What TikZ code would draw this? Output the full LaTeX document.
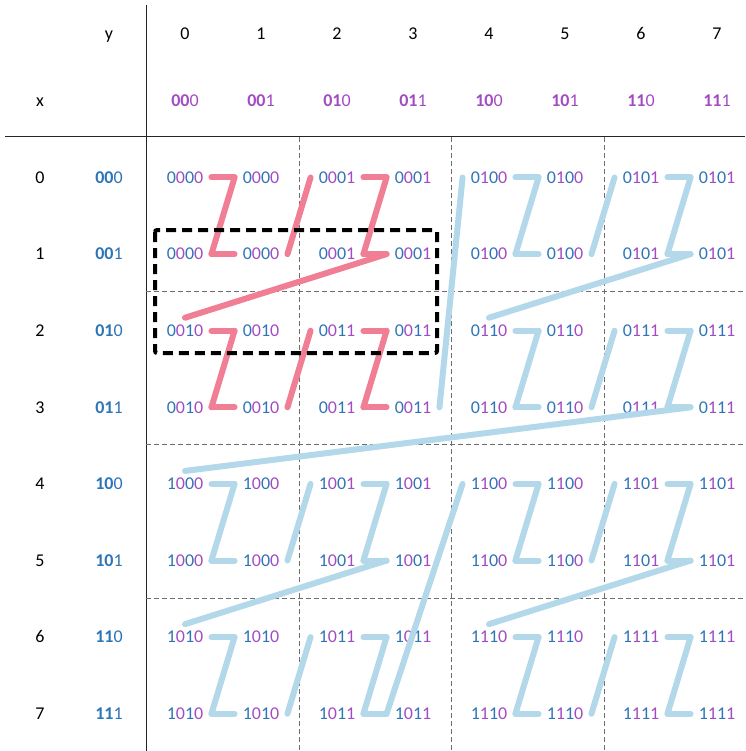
\documentclass[tikz,border=0pt]{standalone}
\usepackage{fontspec}
\setmainfont{Carlito}
\usetikzlibrary{calc}
\definecolor{xblue}{HTML}{2E75B6}
\definecolor{ypurple}{HTML}{A24CC2}
\definecolor{zred}{HTML}{F07F96}
\definecolor{zblue}{HTML}{B3D8EA}
\definecolor{gridgray}{HTML}{6E6E6E}

\newcommand{\headbits}[3]{\textbf{#1#2}#3}
\newcommand{\cellbits}[4]{\textcolor{xblue}{#1}\textcolor{ypurple}{#2}\textcolor{xblue}{#3}\textcolor{ypurple}{#4}}

\begin{document}
\begin{tikzpicture}[
    x=1pt, y=-1pt,
    font=\fontsize{18}{20}\selectfont,
    plain/.style={inner sep=0pt, text height=11.5pt, text depth=0pt},
    cell/.style={inner xsep=8pt, inner ysep=7pt, text height=11.5pt, text depth=0pt},
    axis/.style={draw=black!85, line width=1pt},
    split/.style={draw=gridgray, line width=1pt, dash pattern=on 5pt off 3pt},
    zpath/.style={draw=#1, line width=6pt, line cap=round, line join=round},
    window/.style={draw=black, line width=4pt, dash pattern=on 10pt off 6pt, rounded corners=2pt},
]
\useasboundingbox (0,0) rectangle (745,751);

% table lines
\draw[axis] (146,5) -- (146,751);
\draw[axis] (5,137) -- (745,137);
\foreach \p in {299,451,604} \draw[split] (\p,137) -- (\p,751);
\foreach \p in {291,444,598} \draw[split] (146,\p) -- (745,\p);

% headers
\node[plain] (ytitle) at (109,34) {y};
\node[plain] (xtitle) at (40,101) {x};
\foreach \c in {0,...,7} {
    \pgfmathtruncatemacro\bita{floor(\c/4)}
    \pgfmathtruncatemacro\bitb{mod(floor(\c/2),2)}
    \pgfmathtruncatemacro\bitc{mod(\c,2)}
    \node[plain] (ynum-\c) at (185+76*\c,34) {\c};
    \node[plain, text=ypurple] (ybin-\c) at (185+76*\c,101) {\headbits{\bita}{\bitb}{\bitc}};
    \node[plain] (xnum-\c) at (40,177.5+76.6*\c) {\c};
    \node[plain, text=xblue] (xbin-\c) at (109,177.5+76.6*\c) {\headbits{\bita}{\bitb}{\bitc}};
}

% cells
\foreach \r in {0,...,7} {
    \foreach \c in {0,...,7} {
        \pgfmathtruncatemacro\xa{floor(\r/4)}
        \pgfmathtruncatemacro\xb{mod(floor(\r/2),2)}
        \pgfmathtruncatemacro\ya{floor(\c/4)}
        \pgfmathtruncatemacro\yb{mod(floor(\c/2),2)}
        \node[cell] (cell-\r-\c) at (185+76*\c,177.5+76.6*\r) {\cellbits{\xa}{\ya}{\xb}{\yb}};
    }
}

% z-order curve
\foreach \k in {0,...,62} {
    \pgfmathtruncatemacro\knext{\k+1}
    \pgfmathtruncatemacro\rowa{4*mod(floor(\k/32),2)+2*mod(floor(\k/8),2)+mod(floor(\k/2),2)}
    \pgfmathtruncatemacro\cola{4*mod(floor(\k/16),2)+2*mod(floor(\k/4),2)+mod(\k,2)}
    \pgfmathtruncatemacro\rowb{4*mod(floor(\knext/32),2)+2*mod(floor(\knext/8),2)+mod(floor(\knext/2),2)}
    \pgfmathtruncatemacro\colb{4*mod(floor(\knext/16),2)+2*mod(floor(\knext/4),2)+mod(\knext,2)}
    \pgfmathtruncatemacro\kmod{mod(\k,4)}
    \ifnum\colb>\cola
        \def\aout{east}\def\ain{west}
        \ifnum\k=47 \def\aout{west}\fi
    \else
        \def\aout{west}
        \ifnum\kmod=1 \def\ain{east}\else\def\ain{north}\fi
    \fi
    \ifnum\k<15 \def\zc{zred}\else\def\zc{zblue}\fi
    \draw[zpath=\zc] (cell-\rowa-\cola.\aout) -- (cell-\rowb-\colb.\ain);
}

\draw[window] (155,230) rectangle (437,353);

\end{tikzpicture}
\end{document}
